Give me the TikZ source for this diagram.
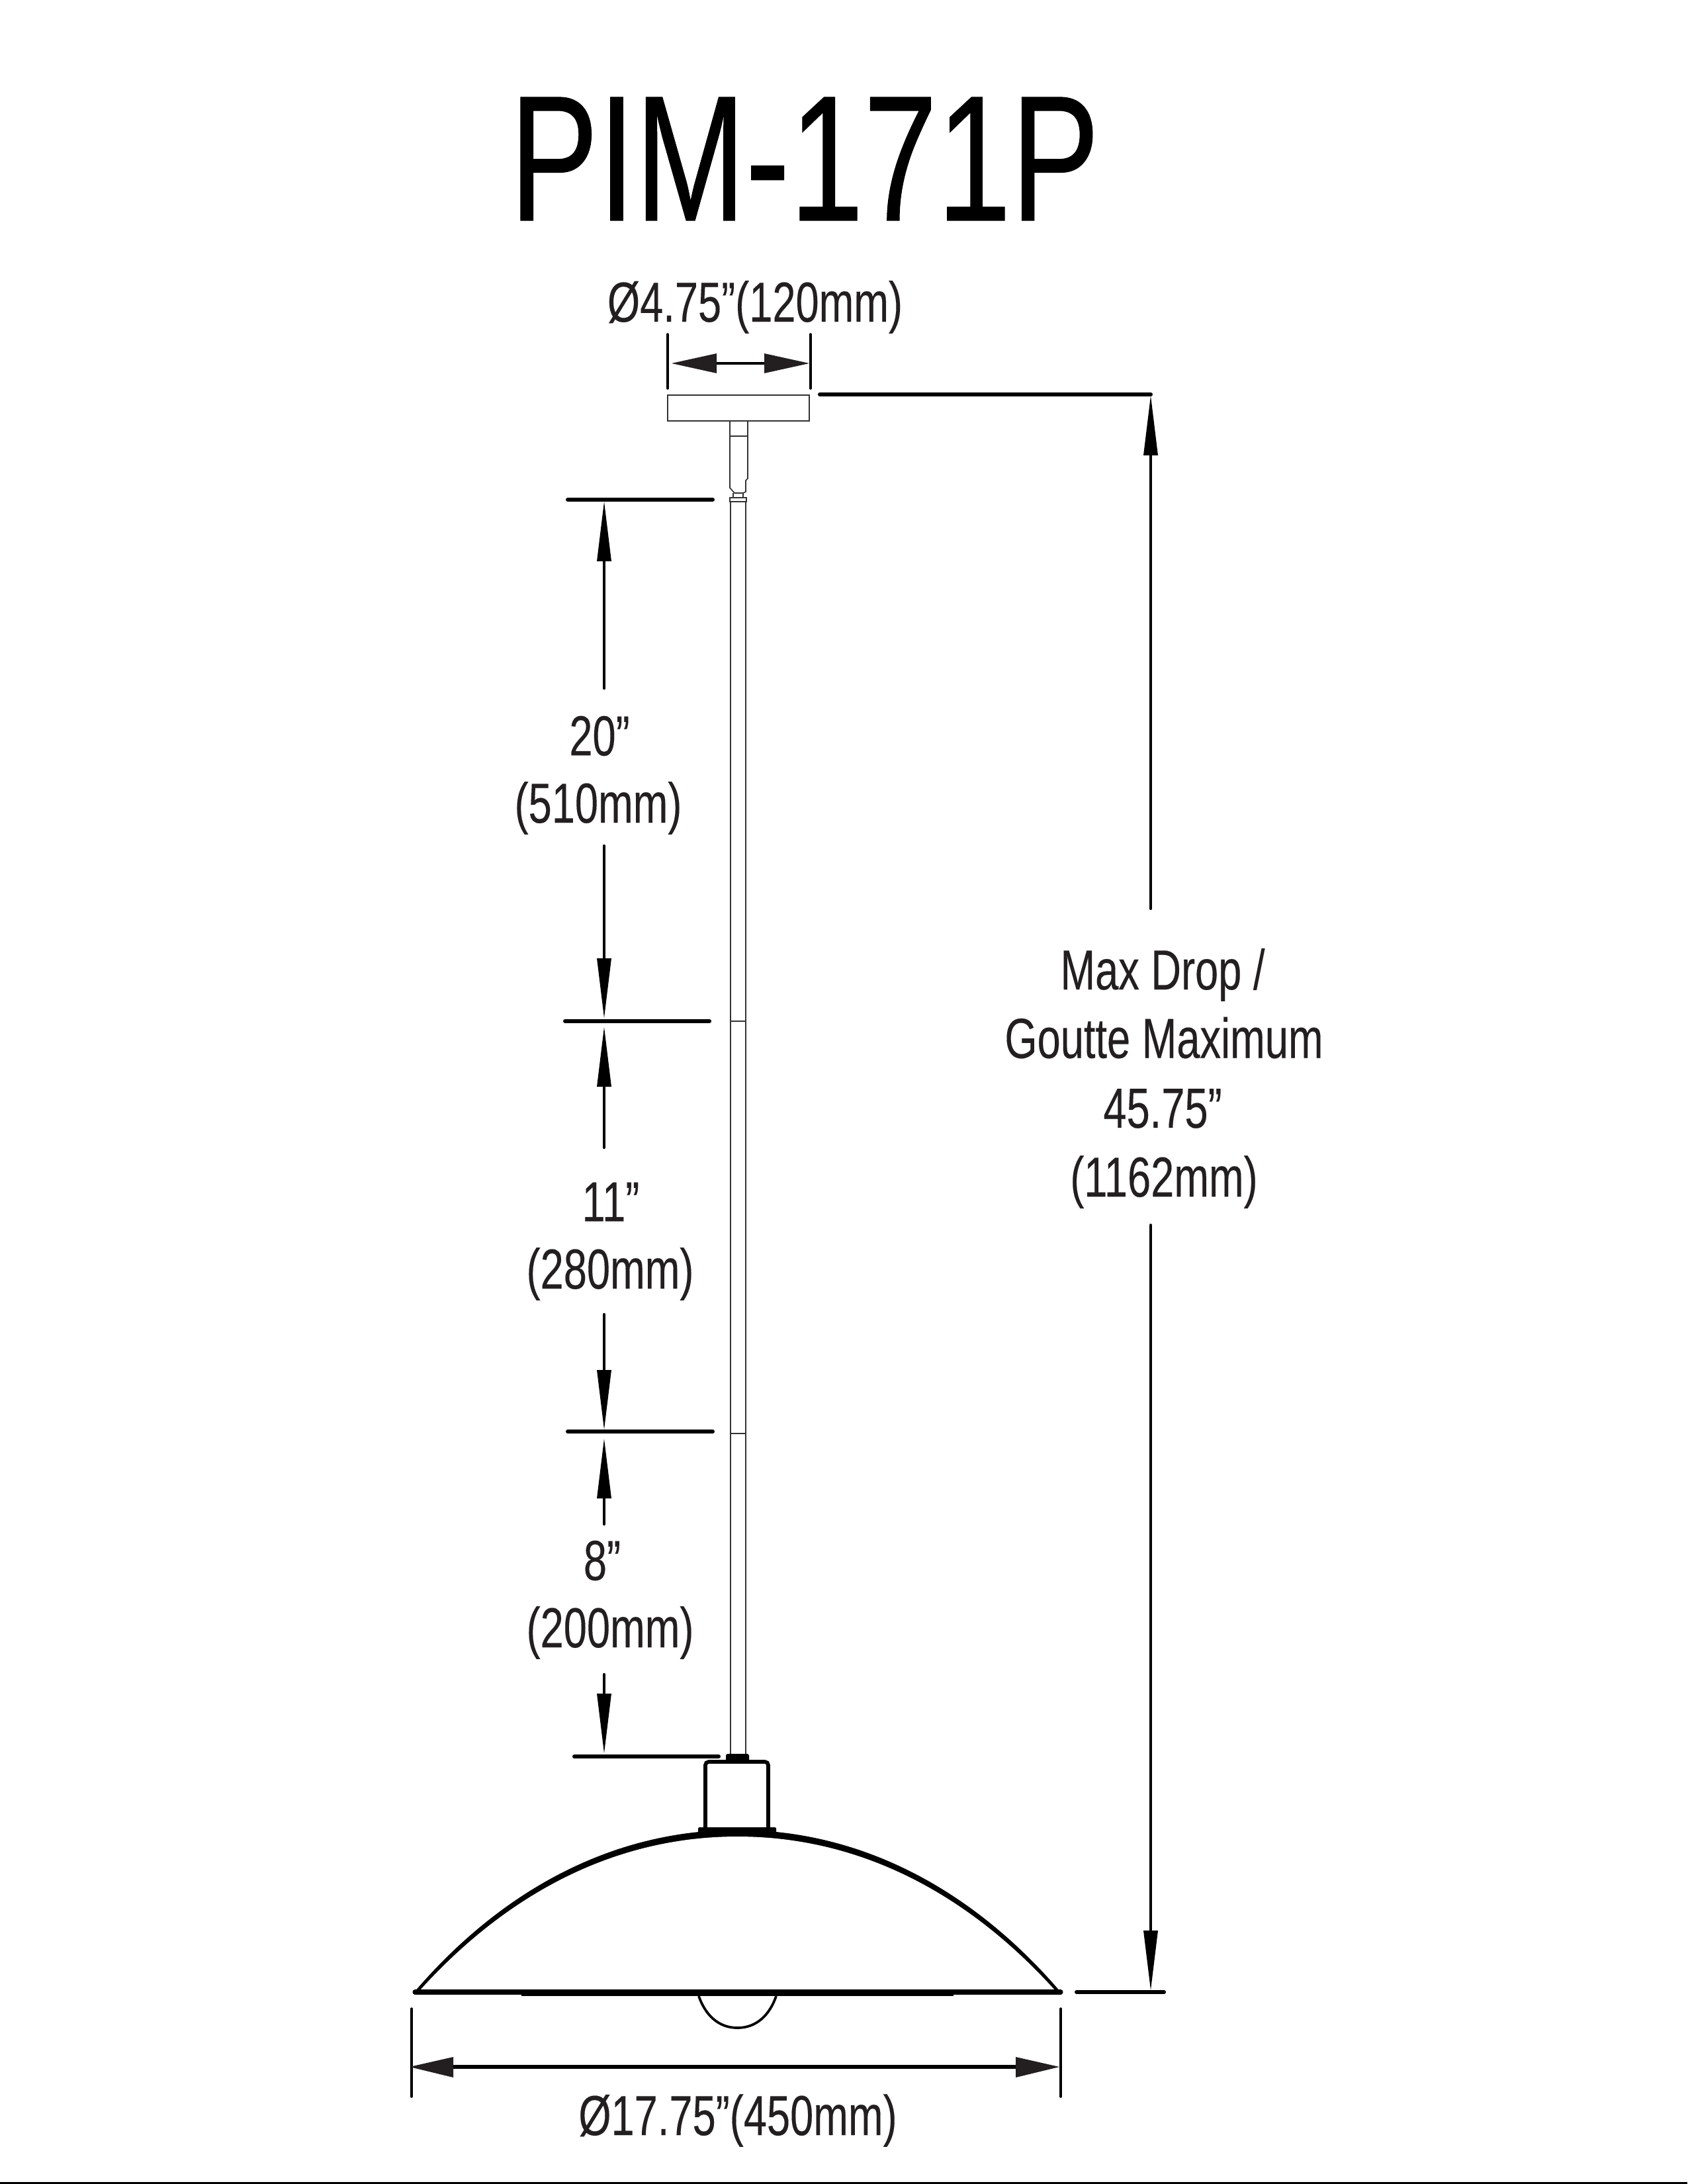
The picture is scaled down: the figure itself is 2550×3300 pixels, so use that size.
\documentclass[tikz,border=0pt]{standalone}
\usepackage{fontspec}
\setmainfont{Liberation Sans}
\newfontfamily\condfont[FakeStretch=0.74,FakeBold=0.15]{Liberation Sans}
\newfontfamily\titlefont[FakeStretch=0.74,FakeBold=0.35]{Liberation Sans}
\definecolor{ink}{HTML}{231F20}
\tikzset{
  x=0.24pt,y=-0.24pt,
  dimtext/.style={font=\condfont\fontsize{20.5pt}{24pt}\selectfont,text=ink,inner sep=0pt,anchor=center},
  titletext/.style={font=\titlefont\fontsize{65pt}{70pt}\selectfont,text=black,inner sep=0pt,anchor=center},
  dimline/.style={line width=1pt,line cap=round,black},
  extline/.style={line width=1.45pt,line cap=round,black},
  tickline/.style={line width=0.85pt,line cap=round,black},
  fixture/.style={line width=0.4pt,draw=black!80},
  head/.style={fill=ink,draw=none},
}
\newcommand{\hdL}[2]{\fill[head] (#1,#2) -- ++(68,-15) -- ++(0,30) -- cycle;}
\newcommand{\hdR}[2]{\fill[head] (#1,#2) -- ++(-68,-15) -- ++(0,30) -- cycle;}
\newcommand{\hdU}[2]{\fill[black] (#1,#2) -- ++(-11,90) -- ++(22,0) -- cycle;}
\newcommand{\hdD}[2]{\fill[black] (#1,#2) -- ++(-11,-90) -- ++(22,0) -- cycle;}
\begin{document}
\begin{tikzpicture}
\useasboundingbox (0,0) rectangle (2550,3300);
\fill[white] (0,0) rectangle (2550,3300);
% title
\node[titletext] (title) at (1216,240) {PIM-171P};
% canopy and stem
\node[fixture,draw,rectangle,inner sep=0pt,minimum width=51.36pt,minimum height=9.36pt] (canopy) at (1116,616.5) {};
\draw[fixture] (1103,636) -- (1103,737) -- (1110,745) -- (1123,745) -- (1127,743) -- (1127,726) -- (1130,723) -- (1130,636);
\draw[fixture] (1103,659) -- (1130,659);
\draw[fixture] (1108,745) -- (1108,752) (1123,745) -- (1123,752);
\draw[fixture] (1103,752) rectangle (1128,758);
% rod
\draw[fixture] (1104,758) -- (1104,2650) (1127,758) -- (1127,2650);
\draw[fixture] (1104,1543) -- (1127,1543) (1104,2166) -- (1127,2166);
% socket
\fill[black,rounded corners=0.7pt] (1097,2662) -- (1097,2650) -- (1132,2650) -- (1132,2662) -- cycle;
\draw[line width=1.37pt,rounded corners=1.2pt] (1066,2764) -- (1066,2662) -- (1161,2662) -- (1161,2764);
\fill[black,rounded corners=0.5pt] (1055,2770) -- (1055,2761) -- (1173,2761) -- (1173,2770) -- cycle;
% shade
\fill[black] (626,3010) .. controls (756,2858) and (924,2765) .. (1114.5,2765)
  .. controls (1305,2765) and (1473,2858) .. (1603,3010) -- cycle;
\fill[white] (634,3008) .. controls (762,2866) and (924,2775) .. (1114.5,2775)
  .. controls (1305,2775) and (1467,2866) .. (1595,3008) -- cycle;
\draw[line width=1.7pt,line cap=round] (627,3010) -- (1603,3010);
\fill[black] (788,3006) rectangle (1441,3016);
% bulb
\draw[line width=0.9pt] (1056,3016) .. controls (1066,3045) and (1086,3064) .. (1114.5,3064)
  .. controls (1143,3064) and (1163,3045) .. (1173,3016);
% top diameter
\draw[tickline] (1009,505) -- (1009,587) (1225,505) -- (1225,587);
\draw[dimline] (1080,549) -- (1165,549);
\hdL{1015}{549}\hdR{1223}{549}
\node[dimtext] (dtop) at (1141,464) {Ø4.75”(120mm)};
% overall drop
\draw[extline] (1239,596) -- (1739,596);
\draw[dimline] (1739,640) -- (1739,1373) (1739,1851) -- (1739,2960);
\hdU{1739}{598}\hdD{1739}{3007}
\draw[extline] (1627,3010) -- (1759,3010);
\node[dimtext] (max1) at (1757,1473) {Max Drop /};
\node[dimtext] (max2) at (1759,1568) {Goutte Maximum};
\node[dimtext] (max3) at (1757,1675) {45.75”};
\node[dimtext] (max4) at (1759,1786) {(1162mm)};
% left dims
\draw[extline] (858,755) -- (1077,755) (854,1543) -- (1072,1543) (858,2163) -- (1077,2163) (868,2654) -- (1086,2654);
\draw[dimline] (913,800) -- (913,1040) (913,1278) -- (913,1500);
\hdU{913}{758}\hdD{913}{1538}
\draw[dimline] (913,1600) -- (913,1734) (913,1986) -- (913,2110);
\hdU{913}{1552}\hdD{913}{2160}
\draw[dimline] (913,2220) -- (913,2303) (913,2530) -- (913,2600);
\hdU{913}{2174}\hdD{913}{2649}
\node[dimtext] (a1) at (906,1112) {20”};
\node[dimtext] (a2) at (904,1221) {(510mm)};
\node[dimtext] (b1) at (923,1816) {11”};
\node[dimtext] (b2) at (922,1925) {(280mm)};
\node[dimtext] (c1) at (910,2358) {8”};
\node[dimtext] (c2) at (922,2467) {(200mm)};
% bottom diameter
\draw[tickline] (622,3035) -- (622,3168) (1603,3035) -- (1603,3168);
\draw[dimline,line width=1.4pt] (682,3123) -- (1540,3123);
\fill[head] (619,3123) -- (685,3108) -- (685,3139) -- cycle;
\fill[head] (1601,3123) -- (1535,3108) -- (1535,3139) -- cycle;
\node[dimtext] (dbot) at (1115,3204) {Ø17.75”(450mm)};
% rule
\fill[black] (0,3297) rectangle (2550,3300);
\end{tikzpicture}
\end{document}
